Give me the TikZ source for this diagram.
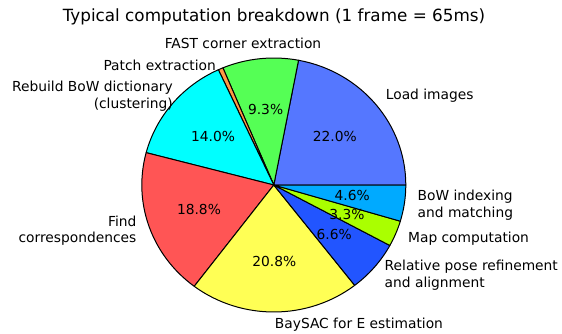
\documentclass[tikz,border=0pt]{standalone}
\usepackage{fontspec}
\setmainfont{DejaVu Sans}
\usepackage{xcolor}
\usepackage{tikz}
\usetikzlibrary{positioning}

\definecolor{loadblue}{HTML}{5577FF}
\definecolor{fastgreen}{HTML}{55FF55}
\definecolor{patchorange}{HTML}{FF9944}
\definecolor{rebuildcyan}{HTML}{00FFFF}
\definecolor{findred}{HTML}{FF5555}
\definecolor{baysacyellow}{HTML}{FFFF55}
\definecolor{poseblue}{HTML}{2255FF}
\definecolor{maplime}{HTML}{AAFF00}
\definecolor{indexblue}{HTML}{00AAFF}

\begin{document}
\begin{tikzpicture}[
x=1pt, y=1pt,
wedge/.style={draw=black, line width=1pt, line join=round, x radius=132pt, y radius=127pt},
lbl/.style={inner sep=0pt, font=\fontsize{13.8}{16.5}\selectfont},
pct/.style={inner sep=0pt, font=\fontsize{13.8}{16.5}\selectfont}
]
\useasboundingbox (0,0) rectangle (562,333);
\coordinate (pie) at (273.8,148);

% wedges, counter-clockwise from 3 o'clock
\filldraw[wedge, fill=loadblue] (pie) -- ++(0:132pt and 127pt) arc[start angle=0, end angle=79.2] -- cycle;
\filldraw[wedge, fill=fastgreen] (pie) -- ++(79.2:132pt and 127pt) arc[start angle=79.2, end angle=112.68] -- cycle;
\filldraw[wedge, fill=patchorange] (pie) -- ++(112.68:132pt and 127pt) arc[start angle=112.68, end angle=114.84] -- cycle;
\filldraw[wedge, fill=rebuildcyan] (pie) -- ++(114.84:132pt and 127pt) arc[start angle=114.84, end angle=165.24] -- cycle;
\filldraw[wedge, fill=findred] (pie) -- ++(165.24:132pt and 127pt) arc[start angle=165.24, end angle=232.92] -- cycle;
\filldraw[wedge, fill=baysacyellow] (pie) -- ++(232.92:132pt and 127pt) arc[start angle=232.92, end angle=307.8] -- cycle;
\filldraw[wedge, fill=poseblue] (pie) -- ++(307.8:132pt and 127pt) arc[start angle=307.8, end angle=331.56] -- cycle;
\filldraw[wedge, fill=maplime] (pie) -- ++(331.56:132pt and 127pt) arc[start angle=331.56, end angle=343.44] -- cycle;
\filldraw[wedge, fill=indexblue] (pie) -- ++(343.44:132pt and 127pt) arc[start angle=343.44, end angle=360] -- cycle;

% percentages
\node[pct] (pload) at ([shift={(39.6:79.2pt and 76.2pt)}]pie) {22.0\%};
\node[pct] (pfast) at ([shift={(95.94:79.2pt and 76.2pt)}]pie) {9.3\%};
\node[pct] (prebuild) at ([shift={(140.04:79.2pt and 76.2pt)}]pie) {14.0\%};
\node[pct] (pfind) at ([shift={(199.08:79.2pt and 76.2pt)}]pie) {18.8\%};
\node[pct] (pbaysac) at ([shift={(270.36:79.2pt and 76.2pt)}]pie) {20.8\%};
\node[pct] (ppose) at ([shift={(319.68:79.2pt and 76.2pt)}]pie) {6.6\%};
\node[pct] (pmap) at ([shift={(337.5:79.2pt and 76.2pt)}]pie) {3.3\%};
\node[pct] (pindex) at ([shift={(351.72:79.2pt and 76.2pt)}]pie) {4.6\%};

% slice labels
\node[lbl, anchor=west] (load) at ([shift={(39.6:145.2pt and 139.7pt)}]pie) {Load images};
\node[lbl] (fast) at (243,290) {FAST corner extraction};
\node[lbl, anchor=east] (patch) at (216,268) {Patch extraction};
\node[lbl, anchor=east, align=right] (rebuild) at (173,237) {Rebuild BoW dictionary\\(clustering)\hspace{11pt}};
\node[lbl, anchor=east, align=right] (find) at ([shift={(199.08:145.2pt and 139.7pt)}]pie) {Find\\correspondences};
\node[lbl, anchor=west] (baysac) at ([shift={(270.36:145.2pt and 139.7pt)}]pie) {BaySAC for E estimation};
\node[lbl, anchor=west, align=left] (pose) at ([shift={(319.68:145.2pt and 139.7pt)}]pie) {Relative pose refinement\\and alignment};
\node[lbl, anchor=west] (map) at ([shift={(337.5:145.2pt and 139.7pt)}]pie) {Map computation};
\node[lbl, anchor=west, align=left] (index) at ([shift={(351.72:145.2pt and 139.7pt)}]pie) {BoW indexing\\and matching};

\node[inner sep=0pt, font=\fontsize{16.8}{20}\selectfont] (title) at (274,316) {Typical computation breakdown (1 frame = 65ms)};
\end{tikzpicture}
\end{document}
